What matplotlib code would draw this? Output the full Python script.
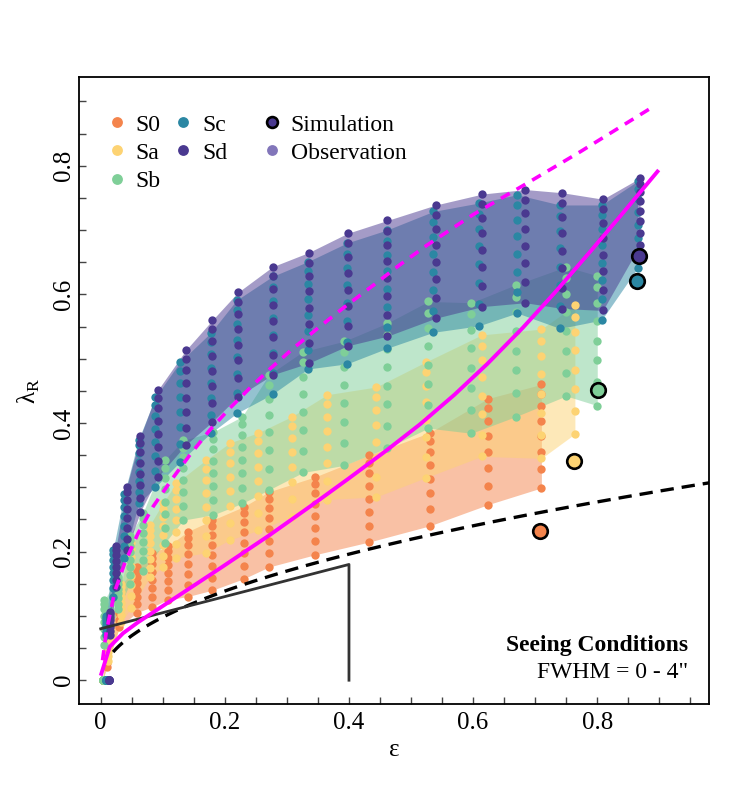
import numpy as np
import matplotlib
matplotlib.use("Agg")
import matplotlib.pyplot as plt
from matplotlib.lines import Line2D
from matplotlib.ticker import MultipleLocator

plt.rcParams['font.family'] = ['Liberation Serif', 'DejaVu Serif']
plt.rcParams['mathtext.fontset'] = 'custom'
plt.rcParams['mathtext.rm'] = 'Liberation Serif'

# ---------------- data ----------------
types = ['S0', 'Sa', 'Sb', 'Sc', 'Sd']
colors = {'S0': '#f4844c', 'Sa': '#fdd373', 'Sb': '#7fcf98',
          'Sc': '#2b87a3', 'Sd': '#4a3990'}
obs_color = '#8276ba'

# ellipticity of each inclination column, top (FWHM=0) and bottom (FWHM=4") lambda_R
S0_eps = [0.003, 0.010, 0.030, 0.058, 0.083, 0.108, 0.140, 0.180, 0.231, 0.271, 0.345, 0.433, 0.530, 0.624, 0.710]
S0_top = [0.0, 0.060, 0.145, 0.176, 0.198, 0.208, 0.231, 0.249, 0.270, 0.293, 0.316, 0.350, 0.385, 0.438, 0.460]
S0_bot = [0.0, 0.020, 0.083, 0.105, 0.114, 0.125, 0.130, 0.140, 0.158, 0.176, 0.195, 0.215, 0.240, 0.273, 0.299]

Sa_eps = [0.003, 0.012, 0.033, 0.049, 0.079, 0.100, 0.122, 0.169, 0.208, 0.254, 0.308, 0.365, 0.444, 0.524, 0.614, 0.710, 0.764]
Sa_top = [0.0, 0.070, 0.150, 0.213, 0.241, 0.275, 0.307, 0.342, 0.369, 0.385, 0.410, 0.444, 0.456, 0.495, 0.537, 0.546, 0.583]
Sa_bot = [0.0, 0.030, 0.090, 0.112, 0.160, 0.176, 0.190, 0.198, 0.218, 0.233, 0.254, 0.281, 0.285, 0.315, 0.348, 0.345, 0.383]

Sb_eps = [0.003, 0.006, 0.028, 0.047, 0.068, 0.103, 0.133, 0.181, 0.228, 0.271, 0.326, 0.392, 0.461, 0.528, 0.597, 0.669, 0.750, 0.800]
Sb_top = [0.0, 0.125, 0.160, 0.225, 0.260, 0.342, 0.373, 0.386, 0.410, 0.475, 0.511, 0.527, 0.555, 0.589, 0.587, 0.615, 0.643, 0.629]
Sb_bot = [0.0, 0.055, 0.110, 0.150, 0.170, 0.213, 0.249, 0.257, 0.275, 0.296, 0.323, 0.334, 0.361, 0.392, 0.384, 0.410, 0.442, 0.427]

Sc_eps = [0.008, 0.009, 0.020, 0.038, 0.061, 0.088, 0.128, 0.177, 0.219, 0.277, 0.334, 0.397, 0.461, 0.536, 0.609, 0.671, 0.740, 0.807, 0.865]
Sc_top = [0.0, 0.100, 0.202, 0.290, 0.374, 0.440, 0.495, 0.540, 0.591, 0.628, 0.651, 0.680, 0.700, 0.729, 0.742, 0.755, 0.739, 0.739, 0.776]
Sc_bot = [0.0, 0.070, 0.130, 0.190, 0.275, 0.300, 0.340, 0.384, 0.415, 0.445, 0.484, 0.492, 0.516, 0.541, 0.551, 0.571, 0.547, 0.560, 0.641]

Sd_eps = [0.013, 0.0145, 0.025, 0.042, 0.064, 0.092, 0.137, 0.180, 0.221, 0.277, 0.335, 0.398, 0.462, 0.540, 0.615, 0.684, 0.744, 0.809, 0.869]
Sd_top = [0.0, 0.106, 0.208, 0.301, 0.379, 0.451, 0.513, 0.560, 0.603, 0.643, 0.665, 0.695, 0.715, 0.739, 0.756, 0.763, 0.758, 0.748, 0.781]
Sd_bot = [0.0, 0.070, 0.145, 0.202, 0.262, 0.316, 0.366, 0.402, 0.441, 0.475, 0.493, 0.520, 0.535, 0.563, 0.581, 0.587, 0.578, 0.575, 0.677]

# relative position of each seeing level within a column (0 = FWHM 0, 1 = FWHM 4")
seeing_frac = [0.0, 0.09, 0.21, 0.35, 0.50, 0.65, 0.82, 1.0]

# edge-on simulation points
sim_eps = {'S0': 0.708, 'Sa': 0.763, 'Sb': 0.801, 'Sc': 0.864, 'Sd': 0.868}
sim_lam = {'S0': 0.232, 'Sa': 0.341, 'Sb': 0.451, 'Sc': 0.621, 'Sd': 0.660}

# magenta curves (anisotropic / isotropic edge-on rotators)
aniso_eps = [0.001, 0.0145, 0.036, 0.060, 0.090, 0.1435, 0.197, 0.2726, 0.340, 0.400, 0.460, 0.5145, 0.570, 0.623, 0.680, 0.731, 0.790, 0.840, 0.897]
aniso_lam = [0.010, 0.052, 0.073, 0.090, 0.109, 0.143, 0.177, 0.226, 0.272, 0.314, 0.357, 0.398, 0.444, 0.492, 0.548, 0.602, 0.668, 0.725, 0.791]
iso_eps = [0.003, 0.009, 0.0226, 0.0387, 0.060, 0.0844, 0.1166, 0.1435, 0.1758, 0.208, 0.240, 0.2726, 0.310, 0.348, 0.391, 0.439, 0.482, 0.525, 0.600, 0.682, 0.773, 0.887]
iso_lam = [0.031, 0.075, 0.138, 0.182, 0.228, 0.270, 0.315, 0.350, 0.389, 0.423, 0.454, 0.484, 0.516, 0.546, 0.579, 0.614, 0.646, 0.676, 0.724, 0.770, 0.822, 0.890]

data = {'S0': (S0_eps, S0_top, S0_bot), 'Sa': (Sa_eps, Sa_top, Sa_bot),
        'Sb': (Sb_eps, Sb_top, Sb_bot), 'Sc': (Sc_eps, Sc_top, Sc_bot),
        'Sd': (Sd_eps, Sd_top, Sd_bot)}

# ---------------- figure ----------------
fig = plt.figure(figsize=(7.5, 8), dpi=100)
ax = fig.add_axes([0.1053, 0.12, 0.84, 0.78375])

# bands
for t in types:
    e, top, bot = data[t]
    ax.fill_between(e, bot, top, color=colors[t], alpha=0.5, lw=0, zorder=1)

# dots
for t in types:
    e, top, bot = data[t]
    xs, ys = [], []
    for ei, ti, bi in zip(e, top, bot):
        for f in seeing_frac:
            xs.append(ei)
            ys.append(ti - (ti - bi) * f)
    ax.scatter(xs, ys, s=36, color=colors[t], lw=0, zorder=2)

# fast/slow rotator lines
eps_line = np.linspace(0.02, 1.0, 200)
ax.plot(eps_line, 0.31 * np.sqrt(eps_line), color='black', lw=2.4,
        dashes=(4, 2.4), zorder=3)
ax.plot([0.0, 0.4, 0.4], [0.08, 0.08 + 0.4 / 4, 0.0], color='#333333',
        lw=2.0, zorder=3)

ax.plot(iso_eps, iso_lam, color='#ff00ff', lw=2.6, dashes=(2.8, 2.2), zorder=3)
ax.plot(aniso_eps, aniso_lam, color='#ff00ff', lw=2.8, zorder=3)

# simulation points
for t in types:
    ax.scatter([sim_eps[t]], [sim_lam[t]], s=110, color=colors[t],
               edgecolor='black', lw=1.9, zorder=4)

ax.set_xlim(-0.035, 0.98)
ax.set_ylim(-0.037, 0.938)
ax.xaxis.set_major_locator(MultipleLocator(0.2))
ax.xaxis.set_minor_locator(MultipleLocator(0.05))
ax.yaxis.set_major_locator(MultipleLocator(0.2))
ax.yaxis.set_minor_locator(MultipleLocator(0.05))
ax.tick_params(which='both', direction='in', length=5, width=1.0, colors='#444444',
               labelcolor='black', labelsize=18)
ax.tick_params(axis='x', pad=6)
ax.tick_params(axis='y', pad=3)
fmt = plt.FuncFormatter(lambda v, p: '0' if abs(v) < 1e-9 else f'{v:g}')
ax.xaxis.set_major_formatter(fmt)
ax.yaxis.set_major_formatter(fmt)
plt.setp(ax.get_yticklabels(), rotation=90, va='center')
for sp in ax.spines.values():
    sp.set_linewidth(1.3)

ax.set_xlabel('ε', fontsize=18, labelpad=3)
ax.set_ylabel('λ$_{\\mathregular{R}}$', fontsize=18, labelpad=8)

ax.text(0.947, 0.054, 'Seeing Conditions', fontsize=17, fontweight='bold',
        ha='right', va='center', zorder=5)
ax.text(0.947, 0.012, 'FWHM = 0 - 4"', fontsize=17, ha='right', va='center', zorder=5)

# legends
h1 = [Line2D([], [], ls='', marker='o', ms=7.8, mew=0, color=colors[t]) for t in types]
leg1 = ax.legend(h1, types, loc='upper left', bbox_to_anchor=(0.0452, 0.941),
                 ncol=2, frameon=False, fontsize=17, handlelength=0.8,
                 handletextpad=0.4, columnspacing=0.55, labelspacing=0.28,
                 borderpad=0, borderaxespad=0)
ax.add_artist(leg1)
h2 = [Line2D([], [], ls='', marker='o', ms=7.8, mew=1.9, mfc=colors['Sd'], mec='black'),
      Line2D([], [], ls='', marker='o', ms=7.8, mew=0, color=obs_color)]
ax.legend(h2, ['Simulation', 'Observation'], loc='upper left',
          bbox_to_anchor=(0.2913, 0.941), frameon=False, fontsize=17,
          handlelength=0.8, handletextpad=0.4, labelspacing=0.28,
          borderpad=0, borderaxespad=0)

fig.savefig('out.png', dpi=100)
